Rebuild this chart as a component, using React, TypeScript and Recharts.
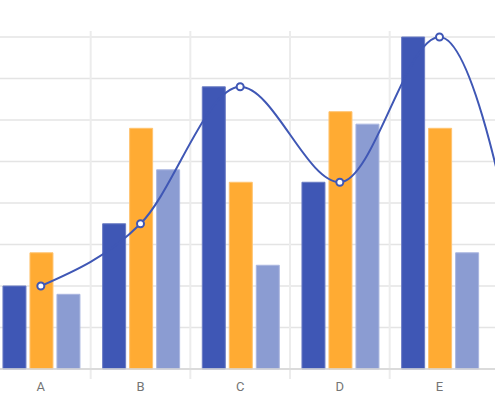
import React from 'react';
import { ComposedChart, Bar, Line, XAxis, YAxis, CartesianGrid, ReferenceLine } from 'recharts';

// categories (F sits just past the right edge of the view)
const categories = ['A', 'B', 'C', 'D', 'E', 'F'];
const shownTicks = ['A', 'B', 'C', 'D', 'E'];
const darkValues = [20, 35, 68, 45, 80, 0];
const orangeValues = [28, 58, 45, 62, 58, 30];
const lightValues = [18, 48, 25, 59, 28, 20];
const lineValues = [20, 35, 68, 45, 80, 0];
const yTicks = [0, 10, 20, 30, 40, 50, 60, 70, 80];
// category bands that get a separator line at their left edge
const separatorCats = ['B', 'C', 'D', 'E'];

const data = categories.map((name, i) => ({
  name,
  dark: darkValues[i],
  orange: orangeValues[i],
  light: lightValues[i],
  trend: lineValues[i],
}));

const SeparatorShape = (props: any) => (
  <line
    x1={props.x1}
    x2={props.x2}
    y1={Math.min(props.y1, props.y2) - 6}
    y2={Math.max(props.y1, props.y2) + 10}
    stroke="#ececec"
    strokeWidth={2}
  />
);

const App: React.FC = () => {
  return (
    <div
      style={{
        position: 'fixed',
        left: 0,
        top: 0,
        width: 495,
        height: 396,
        overflow: 'hidden',
        background: '#fff',
        fontFamily: 'Roboto, Arial, sans-serif',
      }}
    >
      <div style={{ position: 'absolute', left: -9, top: 0 }}>
        <ComposedChart
          width={598}
          height={399}
          data={data}
          margin={{ top: 37, right: 0, left: 0, bottom: 0 }}
          barCategoryGap="12%"
          barGap={4}
        >
          <CartesianGrid vertical={false} stroke="#e4e4e4" strokeWidth={1.5} />
          {separatorCats.map((c) => (
            <ReferenceLine key={c} x={c} position="start" shape={SeparatorShape} />
          ))}
          <XAxis
            dataKey="name"
            ticks={shownTicks}
            interval={0}
            axisLine={{ stroke: '#d6d6d6', strokeWidth: 1.5 }}
            tickLine={false}
            tickMargin={7}
            tick={{ fill: '#757575', fontSize: 13 }}
          />
          <YAxis hide domain={[0, 80]} ticks={yTicks} />
          <Bar dataKey="dark" fill="#3f57b5" stroke="#6b7cc4" strokeWidth={1} isAnimationActive={false} />
          <Bar dataKey="orange" fill="#ffab33" stroke="#ffc370" strokeWidth={1} isAnimationActive={false} />
          <Bar dataKey="light" fill="#8b9cd2" stroke="#aab6e0" strokeWidth={1} isAnimationActive={false} />
          <Line
            type="monotone"
            dataKey="trend"
            stroke="#3f57b5"
            strokeWidth={2}
            dot={{ r: 3.5, fill: '#fff', stroke: '#3f57b5', strokeWidth: 2 }}
            isAnimationActive={false}
          />
        </ComposedChart>
      </div>
    </div>
  );
};

export default App;
